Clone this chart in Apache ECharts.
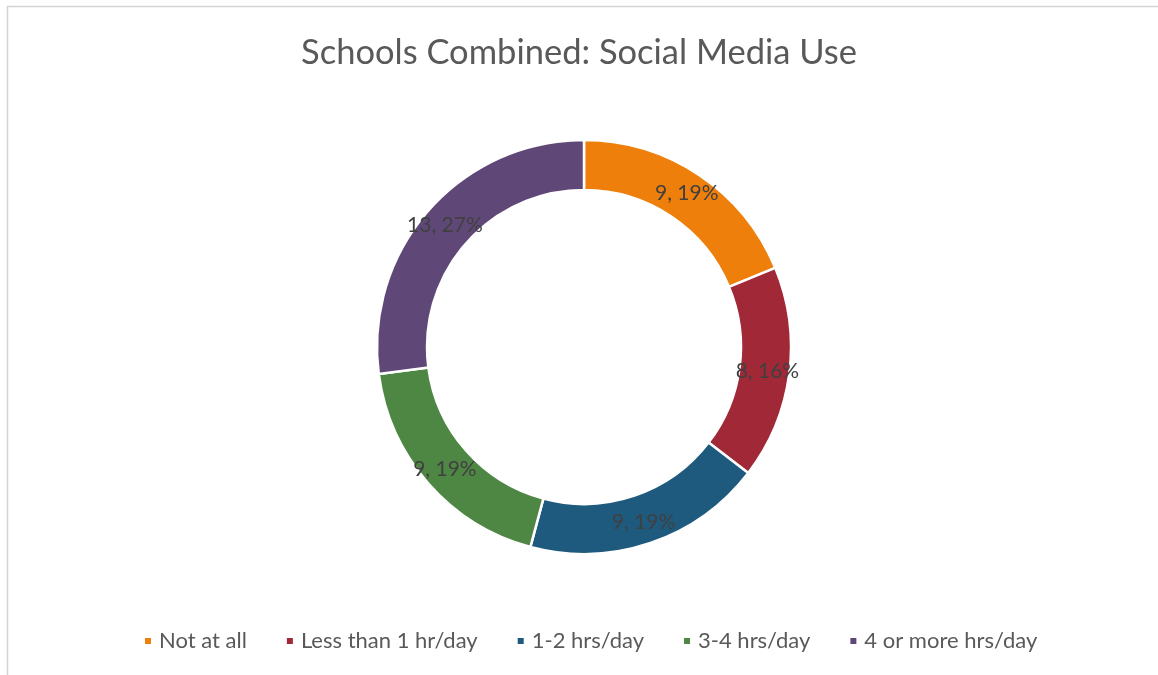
<!DOCTYPE html>
<html>
<head>
<meta charset="utf-8">
<title>Schools Combined: Social Media Use</title>
<script src="https://cdn.jsdelivr.net/npm/echarts@6/dist/echarts.min.js"></script>
<style>
  html, body { margin: 0; padding: 0; background: #ffffff; }
  #chart { width: 1158px; height: 675px; }
</style>
</head>
<body>
<div id="chart"></div>
<script>
// Survey answers: daily time spent on social media, all schools together
const categories = ['Not at all', 'Less than 1 hr/day', '1-2 hrs/day', '3-4 hrs/day', '4 or more hrs/day'];
const counts = [9, 8, 9, 9, 13];
const colors = ['#EE7F0B', '#A12837', '#1E5A7D', '#4E8743', '#5F4877'];

const FONT = 'Lato, "Open Sans", sans-serif';

const chart = echarts.init(document.getElementById('chart'), null, { renderer: 'canvas' });

chart.setOption({
  backgroundColor: '#ffffff',
  color: colors,
  animation: false,
  title: {
    text: 'Schools Combined: Social Media Use',
    left: 'center',
    top: 30,
    textStyle: { fontFamily: FONT, fontSize: 34.5, fontWeight: 'normal', color: '#595959' }
  },
  legend: {
    bottom: 18,
    left: 138,
    icon: 'rect',
    itemWidth: 8,
    itemHeight: 8,
    itemGap: 38,
    textStyle: { fontFamily: FONT, fontSize: 22, color: '#595959', padding: [0, 0, 0, 2] },
    data: categories
  },
  graphic: [{
    type: 'rect',
    silent: true,
    shape: { x: 7.5, y: 6.5, width: 1300, height: 800 },
    style: { fill: 'none', stroke: '#d4d4d4', lineWidth: 1.5 }
  }],
  series: [{
    type: 'pie',
    center: [584, 347],
    radius: [157, 207],
    startAngle: 90,
    clockwise: true,
    percentPrecision: 0,
    itemStyle: { borderColor: '#ffffff', borderWidth: 2.5 },
    label: {
      position: 'inside',
      formatter: '{c}, {d}%',
      fontFamily: FONT,
      fontSize: 21,
      color: '#404040'
    },
    labelLine: { show: false },
    emphasis: { disabled: true },
    data: categories.map((name, i) => ({ name: name, value: counts[i] }))
  }]
});
</script>
</body>
</html>
